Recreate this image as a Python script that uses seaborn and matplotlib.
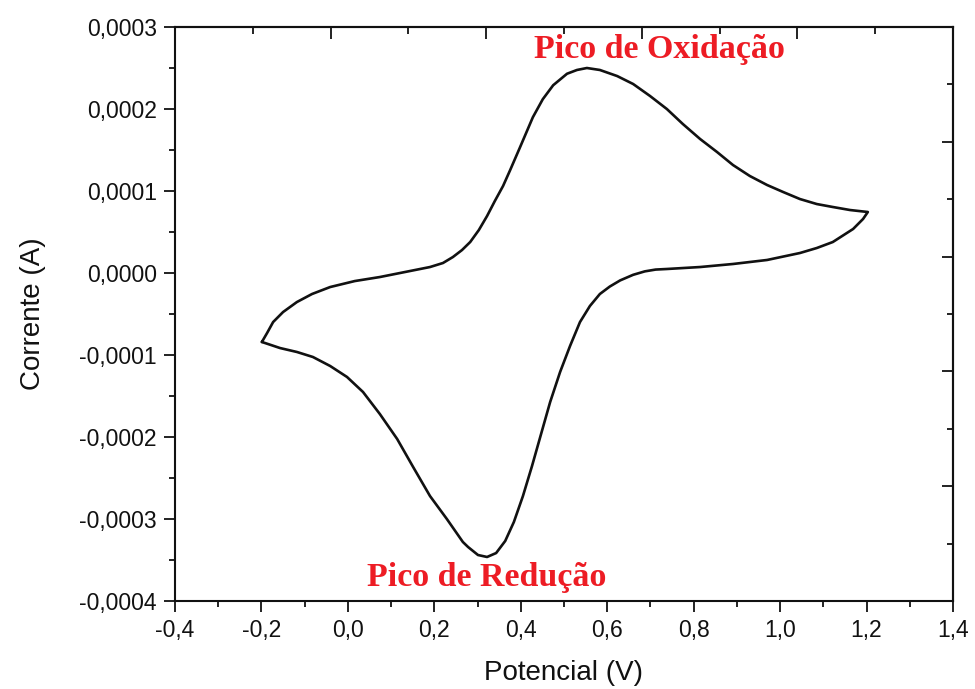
import numpy as np
import pandas as pd
import matplotlib
matplotlib.use("Agg")
import matplotlib.pyplot as plt
from matplotlib.ticker import FixedLocator, MultipleLocator
import seaborn as sns

# Cyclic voltammogram: anodic sweep (-0.2 V -> 1.2 V), current in units of 1e-4 A
potential_forward = [-0.199, -0.187, -0.173, -0.150, -0.118, -0.083, -0.041, 0.016,
                     0.074, 0.132, 0.190, 0.220, 0.243, 0.264, 0.283, 0.303, 0.322,
                     0.340, 0.359, 0.375, 0.398, 0.428, 0.451, 0.475, 0.507, 0.530,
                     0.553, 0.583, 0.623, 0.660, 0.699, 0.738, 0.775, 0.815, 0.854,
                     0.891, 0.930, 0.970, 1.007, 1.046, 1.085, 1.122, 1.162, 1.203]
current_forward = [-0.841, -0.732, -0.598, -0.476, -0.354, -0.256, -0.171, -0.098,
                   -0.049, 0.012, 0.073, 0.122, 0.195, 0.280, 0.378, 0.524, 0.695,
                   0.878, 1.061, 1.250, 1.530, 1.900, 2.120, 2.290, 2.430, 2.476,
                   2.500, 2.476, 2.402, 2.305, 2.159, 2.000, 1.817, 1.634, 1.476,
                   1.317, 1.183, 1.073, 0.988, 0.902, 0.841, 0.805, 0.768, 0.744]

# Cathodic sweep back (1.2 V -> -0.2 V)
potential_reverse = [1.192, 1.169, 1.122, 1.085, 1.046, 0.970, 0.891, 0.815, 0.738,
                     0.712, 0.687, 0.660, 0.630, 0.606, 0.583, 0.560, 0.537, 0.514,
                     0.491, 0.468, 0.447, 0.426, 0.405, 0.384, 0.364, 0.343, 0.322,
                     0.301, 0.278, 0.266, 0.229, 0.190, 0.151, 0.114, 0.074, 0.035,
                     -0.002, -0.041, -0.081, -0.118, -0.157, -0.199]
current_reverse = [0.659, 0.537, 0.378, 0.305, 0.244, 0.159, 0.110, 0.073, 0.049,
                   0.042, 0.020, -0.022, -0.090, -0.165, -0.256, -0.402, -0.598,
                   -0.890, -1.207, -1.573, -1.963, -2.354, -2.720, -3.037, -3.268,
                   -3.415, -3.463, -3.439, -3.341, -3.280, -3.000, -2.720, -2.366,
                   -2.024, -1.720, -1.451, -1.268, -1.134, -1.024, -0.963, -0.915,
                   -0.841]

x_ticks = [-0.4, -0.2, 0.0, 0.2, 0.4, 0.6, 0.8, 1.0, 1.2, 1.4]
x_tick_labels = ["-0,4", "-0,2", "0,0", "0,2", "0,4", "0,6", "0,8", "1,0", "1,2", "1,4"]
y_ticks = [-0.0004, -0.0003, -0.0002, -0.0001, 0.0, 0.0001, 0.0002, 0.0003]
y_tick_labels = ["-0,0004", "-0,0003", "-0,0002", "-0,0001", "0,0000",
                 "0,0001", "0,0002", "0,0003"]

df = pd.DataFrame({
    "Potencial": potential_forward + potential_reverse,
    "Corrente": np.array(current_forward + current_reverse) * 1e-4,
})

sns.set_theme(style="ticks")
plt.rcParams["font.family"] = ["Liberation Sans", "DejaVu Sans"]

fig = plt.figure(figsize=(9.75, 6.89), dpi=100)
ax = fig.add_axes([0.1795, 0.1277, 0.9774 - 0.1795, 0.9608 - 0.1277])

sns.lineplot(data=df, x="Potencial", y="Corrente", sort=False, estimator=None,
             color="#111111", linewidth=1.9, ax=ax)

xmin, xmax = -0.4, 1.4
ymin, ymax = -0.0004, 0.0003
ax.set_xlim(xmin, xmax)
ax.set_ylim(ymin, ymax)

ax.xaxis.set_major_locator(FixedLocator(x_ticks))
ax.set_xticklabels(x_tick_labels)
ax.xaxis.set_minor_locator(MultipleLocator(0.1))
ax.yaxis.set_major_locator(FixedLocator(y_ticks))
ax.set_yticklabels(y_tick_labels)
ax.yaxis.set_minor_locator(MultipleLocator(0.00005))

ax.tick_params(which="major", direction="out", length=8, width=1.3,
               labelsize=16.5, colors="#111111", pad=5)
ax.tick_params(which="minor", direction="out", length=4, width=1.3, colors="#111111")
ax.tick_params(top=False, right=False, which="both")

for sp in ax.spines.values():
    sp.set_visible(True)
    sp.set_linewidth(1.5)
    sp.set_color("#111111")

# Top and right frame axes with their own inward ticks (5 divisions each)
top = ax.secondary_xaxis("top")
top.set_xticks(np.linspace(xmin, xmax, 6))
top.set_xticks(np.linspace(xmin, xmax, 11)[1::2], minor=True)
top.tick_params(which="major", direction="in", length=8.5, width=1.3,
                labeltop=False, colors="#111111")
top.tick_params(which="minor", direction="in", length=5, width=1.3, colors="#111111")
top.set_xticklabels([])
top.spines["top"].set_linewidth(1.5)

right = ax.secondary_yaxis("right")
right.set_yticks(np.linspace(ymin, ymax, 6))
right.set_yticks(np.linspace(ymin, ymax, 11)[1::2], minor=True)
right.tick_params(which="major", direction="in", length=8, width=1.3,
                  labelright=False, colors="#111111")
right.tick_params(which="minor", direction="in", length=4, width=1.3, colors="#111111")
right.set_yticklabels([])
right.spines["right"].set_linewidth(1.5)

ax.set_xlabel("Potencial (V)", fontsize=20, color="#111111", labelpad=13)
ax.set_ylabel("Corrente (A)", fontsize=20, color="#111111", labelpad=24)

label_font = dict(family=["Liberation Serif", "DejaVu Serif"], fontweight="bold",
                  fontsize=24.5, color="#ed1c24", ha="center", va="center")
ax.text(0.722, 0.000273, "Pico de Oxidação", **label_font)
ax.text(0.320, -0.000371, "Pico de Redução", **label_font)

fig.savefig("out.png", dpi=100, facecolor="white")
